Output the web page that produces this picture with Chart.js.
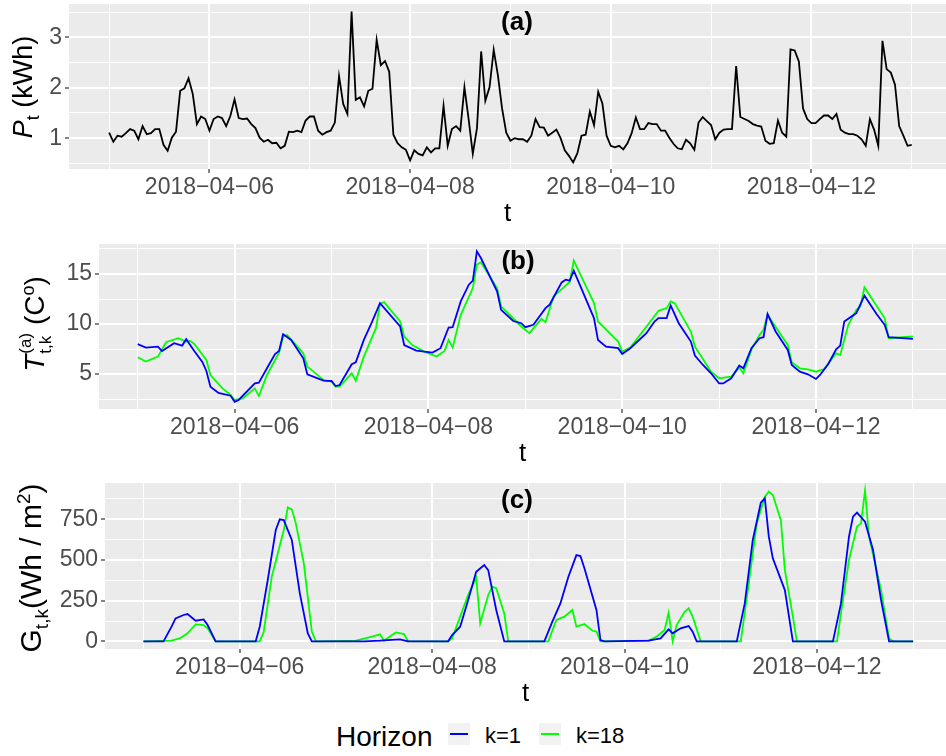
<!DOCTYPE html>
<html>
<head>
<meta charset="utf-8">
<script src="https://cdn.jsdelivr.net/npm/chart.js@4.4.1/dist/chart.umd.min.js"></script>
<style>
  body { margin: 0; background: #fff; width: 946px; height: 756px; overflow: hidden; position: relative;
         font-family: "Liberation Sans", Arial, sans-serif; }
  canvas { position: absolute; left: 0; }
  .txt { position: absolute; white-space: nowrap; color: #000; line-height: 1; }
  .yt { transform: translate(-50%, -50%) rotate(-90deg); }
  .ptitle { transform: translate(-50%, -50%); font-weight: bold; font-size: 26px; }
  .stack { display: inline-flex; flex-direction: column; font-size: 17px; line-height: 20px; vertical-align: 13px; margin-left: 1px; }
  .key { position: absolute; width: 22px; height: 22px; background: #F2F2F2; top: 723px; }
  .key i { position: absolute; left: 2px; right: 2px; top: 10px; height: 2px; }
</style>
</head>
<body>

<canvas id="panelA" width="946" height="232" style="top:0px"></canvas>
<canvas id="panelB" width="946" height="240" style="top:232px"></canvas>
<canvas id="panelC" width="946" height="240" style="top:472px"></canvas>

<!-- panel titles -->
<div class="txt ptitle" style="left:517px; top:21px">(a)</div>
<div class="txt ptitle" style="left:518px; top:260px">(b)</div>
<div class="txt ptitle" style="left:517px; top:499px">(c)</div>

<!-- y axis titles -->
<div class="txt yt" style="left:26px; top:87px; font-size:27px"><i>P</i><sub style="font-size:18px">t</sub> (kWh)</div>
<div class="txt yt" style="left:36px; top:324px; font-size:28px"><i>T</i><span class="stack"><span>(a)</span><span>t,k</span></span> (C<sup style="font-size:18px">o</sup>)</div>
<div class="txt yt" style="left:32px; top:568px; font-size:30px">G<sub style="font-size:19px">t,k</sub>(Wh / m<sup style="font-size:19px">2</sup>)</div>

<!-- legend -->
<div class="txt" style="left:336px; top:723px; font-size:28px">Horizon</div>
<div class="key" style="left:448px"><i style="background:#0000FF"></i></div>
<div class="txt" style="left:485px; top:725px; font-size:22px">k=1</div>
<div class="key" style="left:539px"><i style="background:#00FF00"></i></div>
<div class="txt" style="left:576px; top:725px; font-size:22px">k=18</div>

<script>
// hours since 2018-04-05 00:00
const loadValues = [
  1.11, 0.93, 1.05, 1.03, 1.10, 1.18, 1.15, 0.98, 1.24, 1.08, 1.10, 1.18, 1.18, 0.87, 0.75, 1.01, 1.13, 1.94, 1.99, 2.19, 1.88, 1.28, 1.43, 1.38, 1.15,
  1.38, 1.43, 1.40, 1.24, 1.44, 1.77, 1.40, 1.38, 1.39, 1.28, 1.20, 1.01, 0.93, 0.97, 0.90, 0.91, 0.80, 0.85, 1.13, 1.12, 1.15, 1.12, 1.35, 1.43, 1.43,
  1.15, 1.07, 1.12, 1.15, 1.31, 2.23, 1.68, 1.48, 3.51, 1.76, 1.81, 1.63, 1.94, 1.98, 2.95, 2.45, 2.53, 2.32, 1.07, 0.90, 0.82, 0.77, 0.56, 0.76, 0.69,
  0.66, 0.82, 0.72, 0.80, 0.80, 1.64, 0.85, 1.18, 1.24, 1.15, 2.01, 1.38, 0.69, 1.20, 2.72, 1.74, 2.01, 2.75, 2.25, 1.59, 1.11,
  0.95, 1.00, 0.98, 0.98, 0.93, 1.05, 1.38, 1.22, 1.21, 1.05, 1.11, 1.17, 1.00, 0.76, 0.65, 0.52, 0.70, 1.05, 1.07, 1.53, 1.26, 1.92, 1.69, 1.05,
  0.85, 0.82, 0.85, 0.78, 0.90, 1.10, 1.41, 1.18, 1.18, 1.30, 1.28, 1.28, 1.15, 1.15, 1.01, 0.89, 0.80, 0.78, 0.97, 0.90, 0.77, 1.31, 1.42, 1.34,
  1.26, 0.98, 1.11, 1.17, 1.18, 1.18, 2.43, 1.42, 1.38, 1.34, 1.28, 1.25, 1.23, 0.95, 0.89, 0.90, 1.35, 1.11, 1.03, 2.76, 2.74, 2.52, 1.59, 1.38,
  1.30, 1.30, 1.38, 1.45, 1.45, 1.38, 1.48, 1.17, 1.11, 1.08, 1.08, 1.05, 0.98, 0.85, 1.38, 1.17, 0.85, 2.93, 2.37, 2.30, 2.06, 1.24, 1.05, 0.85, 0.87
];

const tempK1Hours = [0, 2, 5, 6, 9, 11, 12, 14, 16, 17, 18, 20, 23, 24, 25, 29, 30, 32, 34, 35, 36, 38, 41, 42, 46, 48, 49, 50, 53, 54, 56, 58, 60,
  65, 66, 69, 73, 75, 77, 78, 80, 82, 83, 84, 85, 89, 90, 93, 95, 96, 98, 101, 102, 105, 106, 107, 108, 113, 114, 116, 119, 120, 122, 126, 128,
  129, 131, 132, 134, 137, 138, 140, 142, 144, 145, 147, 149, 150, 152, 154, 155, 156, 158, 161, 162, 164, 166, 168, 169, 171, 173, 174, 175,
  178, 180, 183, 185, 186, 192];
const tempK1 = [7.98, 7.64, 7.74, 7.3, 8.08, 7.84, 8.48, 7.3, 6.2, 5.3, 3.73, 3.1, 2.83, 2.22, 2.4, 4.06, 4.13, 5.57, 7.0, 7.3, 8.98, 8.4, 6.57,
  4.97, 4.33, 4.3, 3.8, 3.9, 5.97, 6.17, 8.41, 10.18, 12.09, 9.75, 7.9, 7.34, 7.14, 7.58, 9.65, 9.68, 12.26, 13.93, 14.33, 17.27, 16.6, 13.26,
  11.42, 10.3, 10.08, 9.68, 9.92, 11.59, 11.92, 14.16, 14.43, 14.33, 15.33, 10.59, 8.41, 7.74, 7.58, 7.0, 7.58, 9.08, 10.25, 10.59, 10.59,
  11.86, 10.08, 8.24, 6.84, 5.9, 5.07, 4.06, 4.06, 4.57, 5.84, 5.57, 7.58, 8.58, 8.68, 10.99, 9.25, 7.41, 5.9, 5.23, 4.97, 4.5, 4.9, 5.97,
  7.47, 7.84, 10.25, 11.09, 12.83, 10.99, 9.92, 8.68, 8.51];

const tempK18Hours = [0, 2, 5, 7, 10, 12, 13, 14, 17, 18, 21, 23, 24, 26, 29, 30, 32, 35, 36, 37, 41, 42, 46, 48, 49, 50, 53, 54, 56, 59, 60,
  61, 65, 66, 68, 71, 74, 76, 77, 78, 80, 83, 84, 85, 89, 90, 95, 97, 100, 101, 103, 107, 108, 113, 114, 119, 120, 122, 126, 129, 131, 132,
  133, 137, 138, 142, 144, 147, 149, 150, 152, 154, 155, 156, 161, 162, 164, 166, 168, 170, 173, 174, 176, 178, 179, 180, 185, 186, 192];
const tempK18 = [6.67, 6.24, 6.74, 8.18, 8.58, 8.24, 8.31, 8.0, 6.4, 4.9, 3.56, 2.9, 2.39, 2.56, 3.56, 2.79, 4.9, 7.14, 8.75, 8.9, 7.07, 5.74,
  4.4, 4.23, 3.73, 3.73, 5.07, 4.33, 6.74, 9.58, 12.02, 12.19, 10.25, 8.75, 7.9, 7.24, 6.74, 7.31, 8.41, 7.64, 10.92, 13.6, 15.94, 16.17,
  13.6, 11.76, 9.75, 9.08, 10.52, 10.18, 12.76, 14.2, 16.34, 12.09, 10.25, 8.24, 7.24, 7.64, 9.75, 11.32, 11.59, 12.26, 12.09, 9.25, 7.74,
  5.23, 4.57, 4.73, 5.64, 5.07, 7.41, 8.91, 9.41, 10.92, 7.91, 6.17, 5.57, 5.47, 5.23, 5.5, 7.07, 6.91, 9.92, 11.42, 11.76, 13.66, 10.59,
  8.58, 8.75];

const irrK1Hours = [0, 5, 7, 8, 10, 11, 13, 15, 16, 18, 28, 29, 31, 33, 34, 35, 37, 39, 41, 42, 55, 59, 64, 66, 76, 77, 79, 81, 83, 85, 86, 88,
  90, 100, 102, 104, 106, 108, 109, 110, 113, 114, 115, 126, 129, 131, 132, 134, 136, 137, 138, 148, 150, 152, 154, 155, 156, 157, 160, 162,
  172, 174, 176, 177, 178, 180, 182, 184, 186, 192];
const irrK1 = [0, 0, 90, 141, 162, 168, 127, 135, 100, 0, 0, 90, 377, 684, 750, 745, 623, 295, 49, 0, 0, 4, 12, 0, 0, 39, 90, 254, 428, 469,
  438, 193, 0, 0, 121, 233, 397, 530, 524, 449, 193, 8, 0, 4, 18, 74, 49, 80, 94, 59, 0, 0, 233, 623, 852, 879, 643, 510, 315, 0, 0, 233, 643,
  766, 791, 735, 561, 254, 0, 0];

const irrK18Hours = [0, 7, 9, 11, 13, 15, 16, 18, 29, 30, 32, 35, 36, 37, 38, 40, 42, 43, 53, 57, 59, 60, 62, 63, 65, 66, 76, 77, 79, 81, 83,
  84, 86, 87, 88, 90, 91, 101, 103, 105, 107, 108, 110, 112, 113, 114, 126, 128, 130, 131, 132, 133, 135, 136, 137, 139, 149, 151, 153, 155,
  156, 157, 159, 160, 162, 163, 173, 174, 176, 178, 179, 180, 181, 184, 186, 187, 192];
const irrK18 = [0, 4, 18, 49, 104, 100, 80, 0, 0, 59, 397, 684, 823, 811, 725, 479, 59, 0, 4, 29, 43, 4, 39, 55, 45, 2, 0, 18, 152, 285, 391,
  111, 285, 336, 326, 172, 0, 0, 131, 152, 193, 90, 106, 65, 60, 0, 4, 29, 70, 176, 0, 100, 182, 203, 152, 0, 0, 356, 725, 889, 920, 899,
  745, 438, 152, 0, 0, 172, 500, 705, 725, 926, 643, 315, 18, 0, 0];

const dateLabels = ['2018−04−06', '2018−04−08', '2018−04−10', '2018−04−12'];

const FONT = '"Liberation Sans", Arial, sans-serif';
const BLUE = '#0000FF';
const GREEN = '#00FF00';

function toPoints(xs, ys) {
  return ys.map((y, i) => ({ x: xs[i], y: y }));
}

const panelBg = {
  id: 'panelBg',
  beforeDraw(chart) {
    const { ctx, chartArea: a } = chart;
    ctx.save();
    ctx.fillStyle = '#EBEBEB';
    ctx.fillRect(a.left, a.top, a.right - a.left, a.bottom - a.top);
    ctx.restore();
  }
};

function lineSet(data, color) {
  return { data: data, borderColor: color, borderWidth: 1.8, pointRadius: 0, fill: false, tension: 0 };
}

function makePanel(id, datasets, yMin, yMax, yStep, isMajorY, leftWidth, padTop) {
  return new Chart(id, {
    type: 'line',
    data: { datasets: datasets },
    plugins: [panelBg],
    options: {
      responsive: false,
      devicePixelRatio: 1,
      animation: false,
      layout: { autoPadding: false, padding: { top: padTop, right: 0, bottom: 0, left: 0 } },
      plugins: { legend: { display: false }, tooltip: { enabled: false } },
      scales: {
        x: {
          type: 'linear',
          min: -9.6,
          max: 200.2,
          afterFit: s => { s.height = 63; },
          border: { display: false },
          grid: {
            color: '#FFFFFF',
            lineWidth: c => (Math.round(c.tick.value / 24) % 2 === 1 ? 2 : 1),
            tickColor: c => (Math.round(c.tick.value / 24) % 2 === 1 ? '#333333' : 'rgba(0,0,0,0)'),
            tickLength: 4,
            tickWidth: 1.2
          },
          ticks: {
            stepSize: 24,
            includeBounds: false,
            autoSkip: false,
            maxRotation: 0,
            minRotation: 0,
            padding: 1,
            color: '#4D4D4D',
            font: { family: FONT, size: 23 },
            callback: v => {
              const d = Math.round(v / 24);
              return d % 2 === 1 ? dateLabels[(d - 1) / 2] : '';
            }
          },
          title: { display: true, text: 't', color: '#000', font: { family: FONT, size: 26 }, padding: { top: 0, bottom: 3 } }
        },
        y: {
          min: yMin,
          max: yMax,
          afterFit: s => { s.width = leftWidth; },
          border: { display: false },
          grid: {
            color: '#FFFFFF',
            lineWidth: c => (isMajorY(c.tick.value) ? 2 : 1),
            tickColor: c => (isMajorY(c.tick.value) ? '#333333' : 'rgba(0,0,0,0)'),
            tickLength: 4,
            tickWidth: 1.2
          },
          ticks: {
            stepSize: yStep,
            includeBounds: false,
            autoSkip: false,
            padding: 3,
            color: '#4D4D4D',
            // minor ticks get a tiny font so their empty labels add no padding
            font: c => ({ family: FONT, size: c.tick && isMajorY(c.tick.value) ? 23 : 1 }),
            callback: v => (isMajorY(v) ? String(v) : '')
          }
        }
      }
    }
  });
}

makePanel('panelA',
  [lineSet(toPoints(loadValues.map((v, i) => i), loadValues), '#000000')],
  0.39, 3.66, 0.5, v => Number.isInteger(v), 69, 4);

makePanel('panelB',
  [lineSet(toPoints(tempK1Hours, tempK1), BLUE), lineSet(toPoints(tempK18Hours, tempK18), GREEN)],
  1.5, 18.0, 2.5, v => v % 5 === 0, 99, 12);

makePanel('panelC',
  [lineSet(toPoints(irrK1Hours, irrK1), BLUE), lineSet(toPoints(irrK18Hours, irrK18), GREEN)],
  -47, 973, 125, v => v % 250 === 0, 105, 11);
</script>
</body>
</html>
